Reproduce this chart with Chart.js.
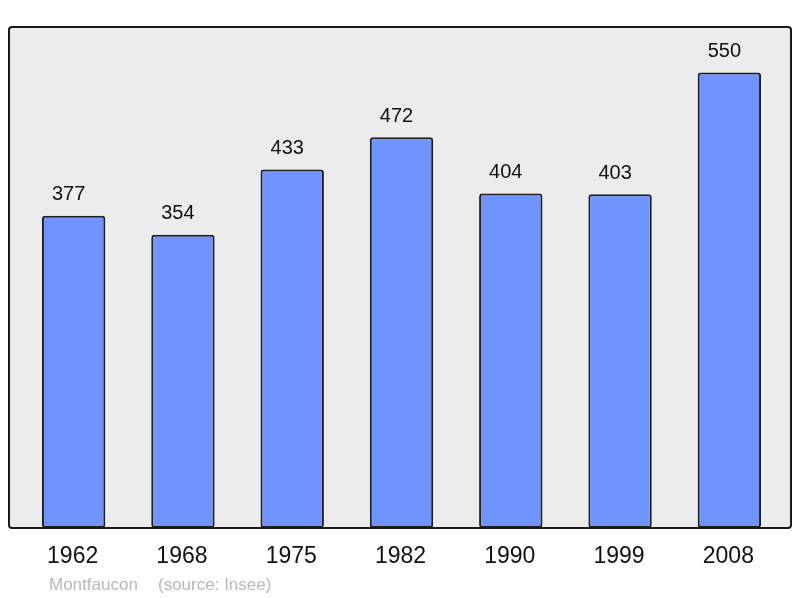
<!DOCTYPE html>
<html>
<head>
<meta charset="utf-8">
<script src="https://cdn.jsdelivr.net/npm/chart.js@4"></script>
<style>
  html, body { margin: 0; padding: 0; background: #ffffff; }
  #wrap { width: 800px; height: 598px; }
</style>
</head>
<body>
<div id="wrap"><canvas id="popChart" width="800" height="598"></canvas></div>
<script>
// Population de Montfaucon par recensement
const years = ["1962", "1968", "1975", "1982", "1990", "1999", "2008"];
const population = [377, 354, 433, 472, 404, 403, 550];
const townName = "Montfaucon";
const sourceText = "(source: Insee)";

// Cadre gris + bordure autour de la zone du graphique
const framePlugin = {
  id: "frame",
  beforeDatasetsDraw(chart) {
    const { ctx, chartArea } = chart;
    ctx.save();
    ctx.fillStyle = "#ececec";
    roundRect(ctx, chartArea.left - 10, chartArea.top, chartArea.right - chartArea.left + 17, chartArea.bottom - chartArea.top, 3);
    ctx.fill();
    ctx.restore();
  },
  afterDatasetsDraw(chart) {
    const { ctx, chartArea } = chart;
    ctx.save();
    ctx.strokeStyle = "#1a1a1a";
    ctx.lineWidth = 2;
    roundRect(ctx, chartArea.left - 10, chartArea.top, chartArea.right - chartArea.left + 17, chartArea.bottom - chartArea.top, 3);
    ctx.stroke();
    ctx.restore();
  },
};

function roundRect(ctx, x, y, w, h, r) {
  ctx.beginPath();
  ctx.moveTo(x + r, y);
  ctx.lineTo(x + w - r, y);
  ctx.quadraticCurveTo(x + w, y, x + w, y + r);
  ctx.lineTo(x + w, y + h - r);
  ctx.quadraticCurveTo(x + w, y + h, x + w - r, y + h);
  ctx.lineTo(x + r, y + h);
  ctx.quadraticCurveTo(x, y + h, x, y + h - r);
  ctx.lineTo(x, y + r);
  ctx.quadraticCurveTo(x, y, x + r, y);
  ctx.closePath();
}

// Valeurs au-dessus des barres, années dessous, et pied de page
const labelsPlugin = {
  id: "labels",
  afterDraw(chart) {
    const { ctx, chartArea } = chart;
    const xScale = chart.scales.x;
    const yScale = chart.scales.y;
    ctx.save();
    ctx.fillStyle = "#111111";
    ctx.textAlign = "center";
    ctx.textBaseline = "middle";

    ctx.font = "20px 'Liberation Sans', Arial, sans-serif";
    population.forEach((v, i) => {
      ctx.fillText(String(v), xScale.getPixelForValue(i) - 5, yScale.getPixelForValue(v) - 21);
    });

    ctx.font = "23px 'Liberation Sans', Arial, sans-serif";
    years.forEach((y, i) => {
      ctx.fillText(y, xScale.getPixelForValue(i) - 1, chartArea.bottom + 29);
    });

    ctx.fillStyle = "#b8b8b8";
    ctx.font = "17px 'Liberation Sans', Arial, sans-serif";
    ctx.textAlign = "left";
    ctx.fillText(townName, 49, chartArea.bottom + 57);
    ctx.fillText(sourceText, 158, chartArea.bottom + 57);
    ctx.restore();
  },
};

new Chart(document.getElementById("popChart"), {
  type: "bar",
  data: {
    labels: years,
    datasets: [
      {
        data: population,
        backgroundColor: "#7094ff",
        borderColor: "#1e1e1e",
        borderWidth: 2,
        borderRadius: 3,
        borderSkipped: false,
        barPercentage: 0.58,
        categoryPercentage: 1,
      },
    ],
  },
  options: {
    responsive: false,
    animation: false,
    layout: {
      padding: { left: 19, right: 16, top: 27, bottom: 70 },
    },
    plugins: {
      legend: { display: false },
      tooltip: { enabled: false },
    },
    scales: {
      x: { display: false },
      y: { display: false, min: 0, max: 605 },
    },
  },
  plugins: [framePlugin, labelsPlugin],
});
</script>
</body>
</html>
